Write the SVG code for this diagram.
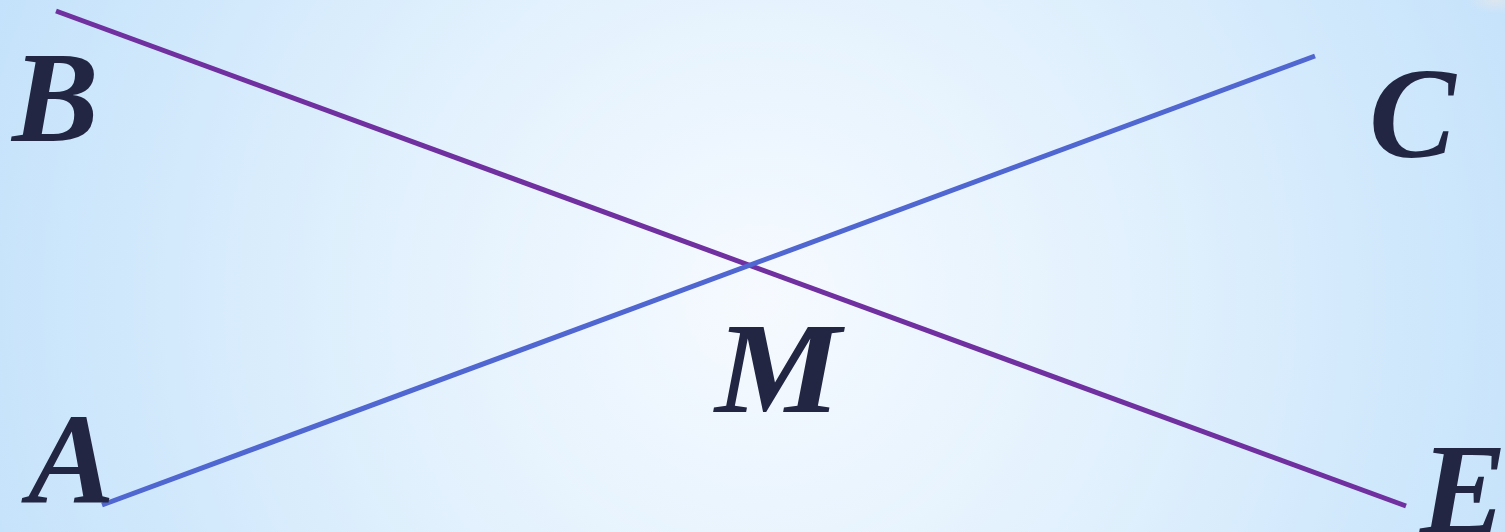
<svg xmlns="http://www.w3.org/2000/svg" width="1505" height="532" viewBox="0 0 1505 532">
<defs>
<radialGradient id="bg" cx="760" cy="300" r="820" gradientUnits="userSpaceOnUse">
<stop offset="0" stop-color="#f6faff"/>
<stop offset="0.45" stop-color="#e2f1fd"/>
<stop offset="1" stop-color="#c4e2fb"/>
</radialGradient>
<radialGradient id="blob" cx="0.5" cy="0.5" r="0.5">
<stop offset="0" stop-color="#dde6ef"/>
<stop offset="1" stop-color="#dde6ef" stop-opacity="0"/>
</radialGradient>
</defs>
<style>
.lbl{font-family:"Liberation Serif","Times New Roman",serif;font-weight:bold;font-style:italic;font-size:130px;fill:#222642}
.seg{stroke-width:5;stroke-linecap:butt;fill:none}
</style>
<rect width="1505" height="532" fill="url(#bg)"/>
<ellipse cx="1495" cy="0" rx="28" ry="14" fill="url(#blob)"/>
<g id="connectors">
<line class="seg" x1="56" y1="11" x2="1406" y2="506" stroke="#7030a0"/>
<line class="seg" x1="102" y1="505" x2="1315" y2="56" stroke="#5066d0"/>
</g>
<g id="B"><text class="lbl" x="12" y="141">B</text></g>
<g id="C"><text class="lbl" x="1369" y="157">C</text></g>
<g id="A"><text class="lbl" x="28" y="502">A</text></g>
<g id="M"><text class="lbl" transform="translate(715,412) scale(1.09,1)" x="0" y="0">M</text></g>
<g id="E"><text class="lbl" x="1420" y="533">E</text></g>
</svg>
